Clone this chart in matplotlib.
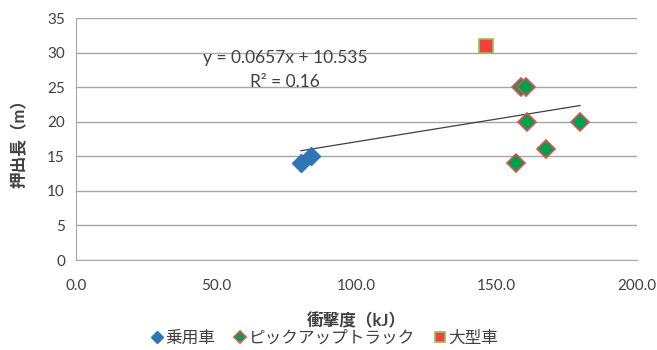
import matplotlib
matplotlib.use("Agg")
import matplotlib.pyplot as plt
import numpy as np

plt.rcParams["font.family"] = ["Lato", "Noto Sans CJK JP", "DejaVu Sans"]

# data
car_x = [80.2, 83.8]
car_y = [14.0, 15.0]
pickup_x = [157.0, 158.8, 160.5, 160.8, 167.6, 179.7]
pickup_y = [14.0, 25.0, 25.0, 20.0, 16.0, 20.0]
truck_x = [146.2]
truck_y = [31.0]

slope, intercept, r2 = 0.0657, 10.535, 0.16

x_ticks = [0, 50, 100, 150, 200]
y_ticks = [0, 5, 10, 15, 20, 25, 30, 35]

fig = plt.figure(figsize=(6.57, 3.5), dpi=100)
ax = fig.add_axes([76 / 657, 90 / 350, 561 / 657, 242 / 350])

ax.set_xlim(0, 200)
ax.set_ylim(0, 35)
ax.set_xticks(x_ticks)
ax.set_xticklabels([f"{v:.1f}" for v in x_ticks], fontsize=11, color="#404040")
ax.set_yticks(y_ticks)
ax.set_yticklabels([str(v) for v in y_ticks], fontsize=11, color="#404040")
ax.tick_params(axis="x", length=0, pad=14)
ax.tick_params(axis="y", length=0, pad=8)
ax.yaxis.grid(True, color="#a6a6a6", linewidth=1)
ax.set_axisbelow(True)
for s in ["top", "right"]:
    ax.spines[s].set_visible(False)
for s in ["left", "bottom"]:
    ax.spines[s].set_color("#a6a6a6")

all_x = np.array(car_x + pickup_x + truck_x)
xl = np.array([all_x.min(), all_x.max()])
ax.plot(xl, slope * xl + intercept, color="#404040", linewidth=0.9, zorder=2)

ax.plot(car_x, car_y, "D", color="#2e75b6", markersize=9, label="乗用車", zorder=3)
ax.plot(pickup_x, pickup_y, "D", markerfacecolor="#00a050", markeredgecolor="#e05050",
        markeredgewidth=1.2, markersize=9, label="ピックアップトラック", zorder=3)
ax.plot(truck_x, truck_y, "s", markerfacecolor="#f04040", markeredgecolor="#9bbb59",
        markeredgewidth=1.2, markersize=10, label="大型車", zorder=3)

ax.text(74.5, 29.2, f"y = {slope}x + {intercept}", ha="center", va="center",
        fontsize=12.5, color="#404040")
ax.text(74.5, 25.7, f"R² = {r2}", ha="center", va="center", fontsize=12.5, color="#404040")

ax.set_xlabel("衝撃度（kJ）", fontsize=12, fontweight="bold", color="#404040", labelpad=14)
ax.set_ylabel("押出長（m）", fontsize=12, fontweight="bold", color="#404040", labelpad=14)

fig.legend(loc="center", bbox_to_anchor=(0.495, 0.035), ncol=3, frameon=False,
           fontsize=12, markerscale=0.7, handlelength=0.6, handletextpad=0.2,
           columnspacing=1.2, labelcolor="#404040")

fig.savefig("out.png", dpi=100)
